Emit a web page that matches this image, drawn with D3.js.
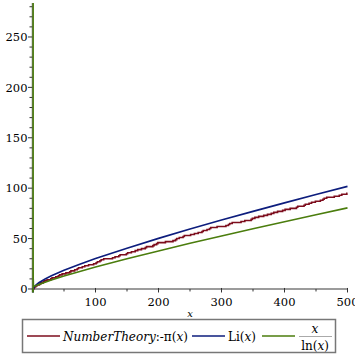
<!DOCTYPE html>
<html><head><meta charset="utf-8">
<script src="https://cdn.jsdelivr.net/npm/d3@7"></script>
<style>body{margin:0;background:#fff}svg{display:block}</style>
</head><body>
<script>
// primes up to 500: π(x) steps up by one at each of these
const primes = [2,3,5,7,11,13,17,19,23,29,31,37,41,43,47,53,59,61,67,71,73,79,83,89,97,
101,103,107,109,113,127,131,137,139,149,151,157,163,167,173,179,181,191,193,197,199,
211,223,227,229,233,239,241,251,257,263,269,271,277,281,283,293,
307,311,313,317,331,337,347,349,353,359,367,373,379,383,389,397,
401,409,419,421,431,433,439,443,449,457,461,463,467,479,487,491,499];
const liX = [0,0.5,0.9,0.99,1.01,1.2,1.5,2,3,5,10,20,30,50,75,100,150,200,250,300,350,400,450,500];
const liY = [0,-0.379,-1.776,-4.033,-4.023,-0.934,0.125,1.045,2.164,3.635,6.166,9.905,13.023,18.469,24.53,30.126,40.50,50.19,59.43,68.33,76.98,85.42,93.68,101.79];
const xlnX = [0,0.5,0.9,0.99,1.002,1.01,1.05,1.1,1.5,2,2.718,5,10,20,30,50,75,100,150,200,250,300,350,400,450,500];
const xlnY = [0,-0.721,-8.54,-98.5,501,101.5,21.5,11.54,3.70,2.885,2.718,3.107,4.343,6.676,8.820,12.78,17.37,21.71,29.94,37.75,45.28,52.60,59.75,66.76,73.66,80.45];
const xMajor = [100,200,300,400,500];
const xMinor = [50,150,250,350,450];
const yMajor = [0,50,100,150,200,250];
const legendLabels = ["NumberTheory:-π(x)","Li(x)","x/ln(x)"];
const colors = ["#7d0d1d","#0d1d7d","#4b7d0d"];

const W=355,H=355;
const svg=d3.select("body").append("svg").attr("width",W).attr("height",H);
const x=d3.scaleLinear().domain([0,500]).range([32.5,347.5]);
const y=d3.scaleLinear().domain([-3.5,283.7]).range([292.5,3]);

svg.append("defs").append("clipPath").attr("id","clip").append("rect")
  .attr("x",x(0)-2).attr("y",y(283.7)).attr("width",x(500)-x(0)+4).attr("height",y(-3.5)-y(283.7));

const axisCol="#7a7a7a";
const font="'DejaVu Serif', serif";
// axes lines
svg.append("line").attr("x1",x(0)).attr("x2",x(500)).attr("y1",y(0)).attr("y2",y(0)).attr("stroke",axisCol).attr("stroke-width",1.5);
svg.append("line").attr("x1",x(0)).attr("x2",x(0)).attr("y1",y(-3.5)).attr("y2",y(283.7)).attr("stroke",axisCol).attr("stroke-width",1.5);

// y ticks
const yMinor=d3.range(10,290,10).filter(v=>v%50!==0);
svg.selectAll(".ymn").data(yMinor).join("line").attr("x1",x(0)-3).attr("x2",x(0)).attr("y1",d=>y(d)).attr("y2",d=>y(d)).attr("stroke","#333").attr("stroke-width",1);
svg.selectAll(".ymj").data(yMajor).join("line").attr("x1",x(0)-4.5).attr("x2",x(0)).attr("y1",d=>y(d)).attr("y2",d=>y(d)).attr("stroke","#333").attr("stroke-width",1);
svg.selectAll(".ylab").data(yMajor).join("text").attr("x",x(0)-5).attr("y",d=>y(d)+4.2).attr("text-anchor","end")
  .attr("font-family",font).attr("font-size",11.5).attr("fill","#000").text(d=>d);
// x ticks
svg.selectAll(".xmn").data(xMinor).join("line").attr("x1",d=>x(d)).attr("x2",d=>x(d)).attr("y1",y(0)).attr("y2",y(0)+2.5).attr("stroke","#333").attr("stroke-width",1);
svg.selectAll(".xmj").data(xMajor).join("line").attr("x1",d=>x(d)).attr("x2",d=>x(d)).attr("y1",y(0)-1).attr("y2",y(0)+3.5).attr("stroke","#333").attr("stroke-width",1);
svg.selectAll(".xlab").data(xMajor).join("text").attr("x",d=>x(d)).attr("y",y(0)+17).attr("text-anchor","middle")
  .attr("font-family",font).attr("font-size",11.5).attr("fill","#000").text(d=>d);
svg.append("text").attr("x",190).attr("y",317).attr("text-anchor","middle").attr("font-family",font).attr("font-style","italic").attr("font-size",10).text("x");

const g=svg.append("g").attr("clip-path","url(#clip)");
const line=d3.line().x(d=>x(d[0])).y(d=>y(d[1]));
// π(x) step data
const piPts=[[0,0]].concat(primes.map((p,i)=>[p,i+1])).concat([[500,primes.length]]);
g.append("path").attr("d",d3.line().x(d=>x(d[0])).y(d=>y(d[1])).curve(d3.curveStepAfter)(piPts))
  .attr("fill","none").attr("stroke",colors[0]).attr("stroke-width",1.6);
g.append("path").attr("d",line(liX.map((v,i)=>[v,liY[i]]))).attr("fill","none").attr("stroke",colors[1]).attr("stroke-width",1.6);
g.append("path").attr("d",line(xlnX.map((v,i)=>[v,xlnY[i]]))).attr("fill","none").attr("stroke",colors[2]).attr("stroke-width",1.6);

// legend
svg.append("rect").attr("x",22.5).attr("y",319.5).attr("width",313).attr("height",33).attr("fill","none").attr("stroke","#777").attr("stroke-width",1.5);
const ly=336;
const sw=[[27,60],[192,225],[262,295]];
sw.forEach((s,i)=>svg.append("line").attr("x1",s[0]).attr("x2",s[1]).attr("y1",ly).attr("y2",ly).attr("stroke",colors[i]).attr("stroke-width",1.6));
const t1=svg.append("text").attr("x",63).attr("y",ly+4.5).attr("font-family",font).attr("font-size",12);
t1.append("tspan").attr("font-style","italic").text("NumberTheory");
t1.append("tspan").text(":-π(");
t1.append("tspan").attr("font-style","italic").text("x");
t1.append("tspan").text(")");
const t2=svg.append("text").attr("x",228).attr("y",ly+4.5).attr("font-family",font).attr("font-size",12);
t2.append("tspan").text("Li(");t2.append("tspan").attr("font-style","italic").text("x");t2.append("tspan").text(")");
const parts=legendLabels[2].split("/");
svg.append("text").attr("x",315).attr("y",333).attr("text-anchor","middle").attr("font-family",font).attr("font-style","italic").attr("font-size",12).text(parts[0]);
svg.append("line").attr("x1",299).attr("x2",332).attr("y1",336.5).attr("y2",336.5).attr("stroke","#aaa").attr("stroke-width",1);
const t3=svg.append("text").attr("x",315).attr("y",350).attr("text-anchor","middle").attr("font-family",font).attr("font-size",12);
t3.append("tspan").text("ln(");t3.append("tspan").attr("font-style","italic").text("x");t3.append("tspan").text(")");
</script>
</body></html>
